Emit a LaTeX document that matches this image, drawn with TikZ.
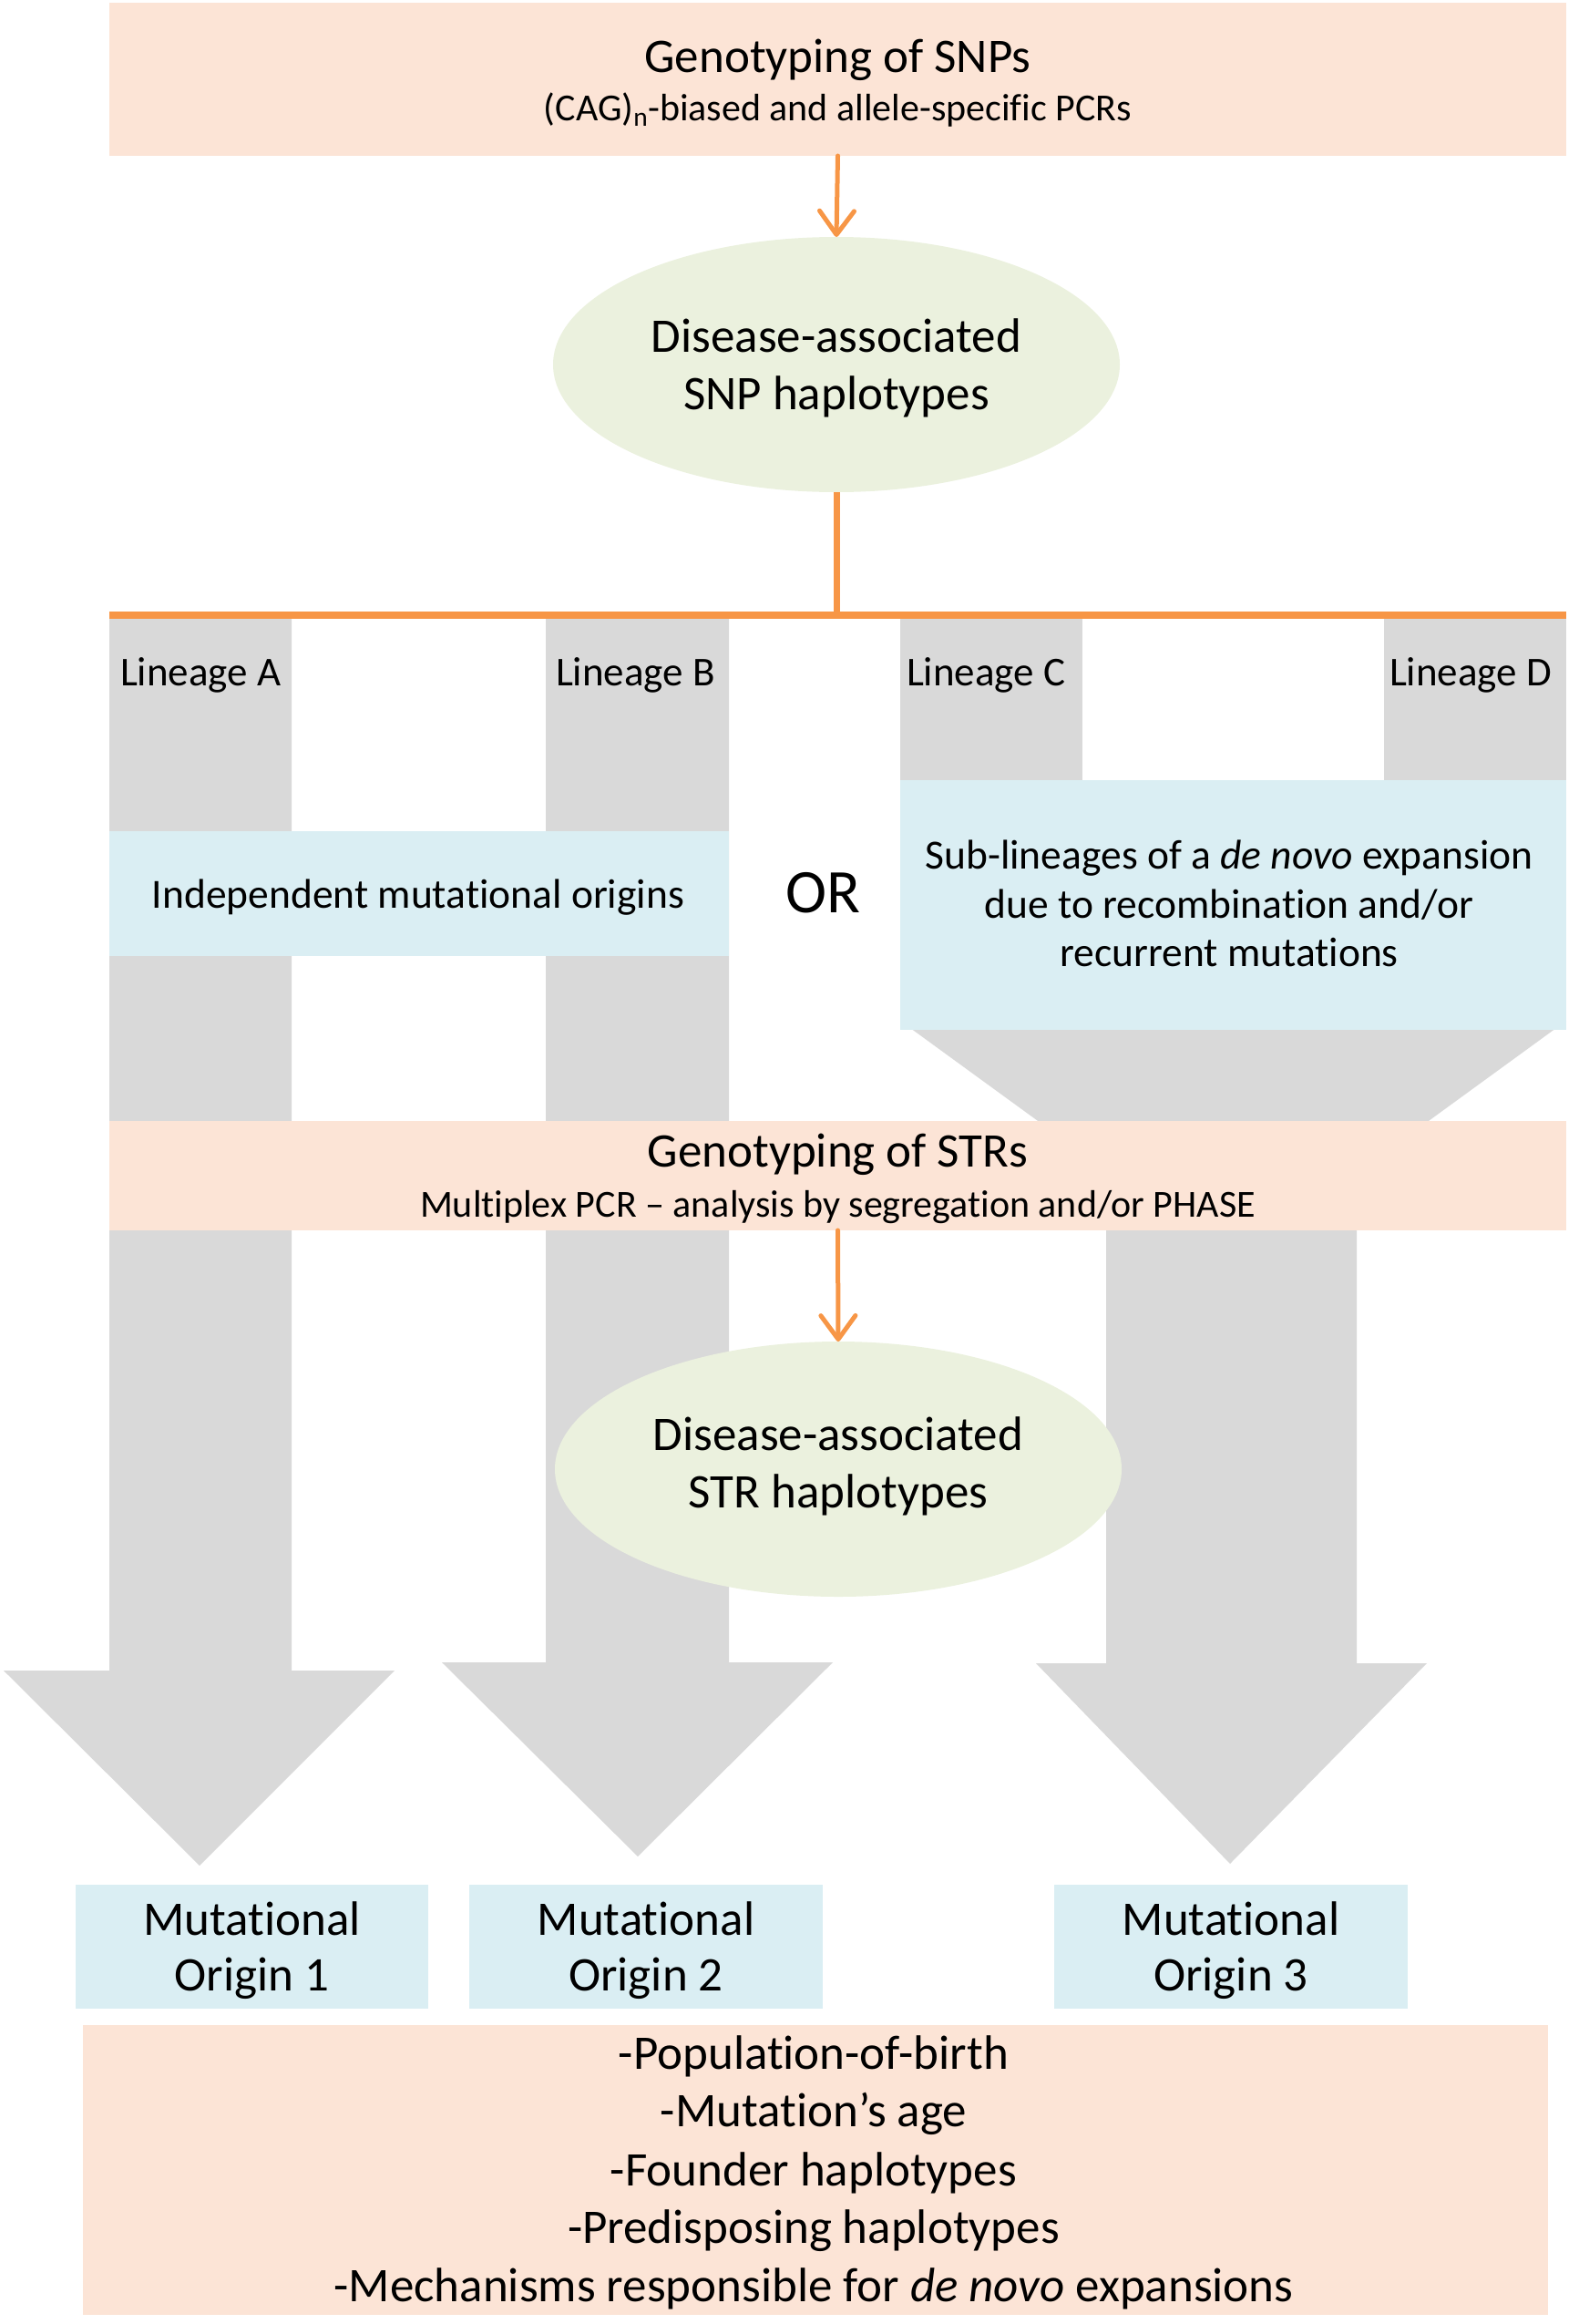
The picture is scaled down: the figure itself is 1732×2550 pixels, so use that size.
\documentclass[tikz,border=0pt]{standalone}
\usepackage{fontspec}
\setmainfont[Ligatures=NoCommon]{Carlito}
\usetikzlibrary{shapes.geometric,arrows.meta}
\definecolor{peach}{HTML}{FCE4D6}
\definecolor{lblue}{HTML}{DAEEF3}
\definecolor{lgreen}{HTML}{EBF1DE}
\definecolor{lgrey}{HTML}{D9D9D9}
\definecolor{orng}{HTML}{F79646}
\newcommand{\fsz}[1]{\fontsize{#1}{#1}\selectfont}
\begin{document}
\begin{tikzpicture}[x=1pt,y=-1pt,
  pbox/.style={rectangle,fill=peach,inner sep=0pt,outer sep=0pt},
  bbox/.style={rectangle,fill=lblue,inner sep=0pt,outer sep=0pt},
  ell/.style={ellipse,fill=lgreen,inner sep=0pt,outer sep=0pt,minimum width=622pt,minimum height=280pt},
  txt/.style={anchor=base,inner sep=0pt,outer sep=0pt},
  ltxt/.style={anchor=base west,inner sep=0pt,outer sep=0pt},
  oarrow/.style={draw=orng,line width=5pt,line cap=round,-{Straight Barb[length=26pt,width=38pt,line width=5pt,round]}},
  oline/.style={draw=orng,line width=7pt},
  greyshape/.style={fill=lgrey}
]
\useasboundingbox (0,0) rectangle (1732,2550);

% grey lineage arrows
\fill[greyshape] (120,675) -- (320,675) -- (320,1833) -- (433,1833) -- (219,2047) -- (4,1833) -- (120,1833) -- cycle;
\fill[greyshape] (599,675) -- (800,675) -- (800,1824) -- (914,1824) -- (700,2037) -- (485,1824) -- (599,1824) -- cycle;
\fill[greyshape] (988,675) rectangle (1188,870);
\fill[greyshape] (1519,675) rectangle (1719,870);
\fill[greyshape] (988,1120) -- (1719,1120) -- (1561,1235) -- (1146,1235) -- cycle;
\fill[greyshape] (1214,1340) -- (1489,1340) -- (1489,1825) -- (1566,1825) -- (1350,2045) -- (1137,1825) -- (1214,1825) -- cycle;

% boxes
\node[pbox,minimum width=1599pt,minimum height=168pt] (snpbox) at (919.5,87) {};
\node[ell] (snphap) at (918,400) {};
\coordinate (hmid) at (918,675);
\coordinate (hleft) at (120,675);
\coordinate (hright) at (1719,675);

\node[bbox,minimum width=680pt,minimum height=137pt] (indep) at (460,980.5) {};
\node[bbox,minimum width=731pt,minimum height=274pt] (sublin) at (1353.5,993) {};

\node[pbox,minimum width=1599pt,minimum height=120pt] (strbox) at (919.5,1290) {};
\node[ell] (strhap) at (920,1612) {};

\node[bbox,minimum width=387pt,minimum height=136pt] (mo1) at (276.5,2136) {};
\node[bbox,minimum width=388pt,minimum height=136pt] (mo2) at (709,2136) {};
\node[bbox,minimum width=388pt,minimum height=136pt] (mo3) at (1351,2136) {};

\node[pbox,minimum width=1608pt,minimum height=318pt] (bottom) at (895,2381) {};

% connectors
\draw[oarrow] (snpbox.south) -- (snphap.north);
\draw[oline] (snphap.south) -- (hmid);
\draw[orng,line width=8pt] (hleft) -- (hright);
\draw[oarrow] (strbox.south) -- (strhap.north);

% texts
\node[txt,font=\fsz{53}] (t1) at (919.5,80) {Genotyping of SNPs};
\node[txt,font=\fsz{42}] (t2) at (919.5,133) {(CAG)\textsubscript{n}-biased and allele-specific PCRs};
\node[txt,font=\fsz{53}] (e1a) at (918,386) {Disease-associated};
\node[txt,font=\fsz{53}] (e1b) at (918,449) {SNP haplotypes};

\node[ltxt,font=\fsz{45}] (la) at (132,752) {Lineage A};
\node[ltxt,font=\fsz{45}] (lb) at (610,752) {Lineage B};
\node[ltxt,font=\fsz{45}] (lc) at (995,752) {Lineage C};
\node[ltxt,font=\fsz{45}] (ld) at (1525,752) {Lineage D};

\node[txt,font=\fsz{45.5}] (ti) at (459,996) {Independent mutational origins};
\node[txt,font=\fsz{68}] (tor) at (903,1001) {OR};
\node[txt,font=\fsz{45.5}] (ts1) at (1349,953) {Sub-lineages of a \emph{de novo} expansion};
\node[txt,font=\fsz{45.5}] (ts2) at (1349,1007) {due to recombination and/or};
\node[txt,font=\fsz{45.5}] (ts3) at (1349,1060) {recurrent mutations};

\node[txt,font=\fsz{53}] (s1) at (919.5,1280) {Genotyping of STRs};
\node[txt,font=\fsz{42}] (s2) at (919.5,1335) {Multiplex PCR – analysis by segregation and/or PHASE};
\node[txt,font=\fsz{53}] (e2a) at (920,1591) {Disease-associated};
\node[txt,font=\fsz{53}] (e2b) at (920,1654) {STR haplotypes};

\node[txt,font=\fsz{53}] (m1a) at (276.5,2123) {Mutational};
\node[txt,font=\fsz{53}] (m1b) at (276.5,2184) {Origin 1};
\node[txt,font=\fsz{53}] (m2a) at (709,2123) {Mutational};
\node[txt,font=\fsz{53}] (m2b) at (709,2184) {Origin 2};
\node[txt,font=\fsz{53}] (m3a) at (1351,2123) {Mutational};
\node[txt,font=\fsz{53}] (m3b) at (1351,2184) {Origin 3};

\node[txt,font=\fsz{53}] (b1) at (893,2270) {-Population-of-birth};
\node[txt,font=\fsz{53}] (b2) at (893,2333) {-Mutation’s age};
\node[txt,font=\fsz{53}] (b3) at (893,2398) {-Founder haplotypes};
\node[txt,font=\fsz{53}] (b4) at (893,2461) {-Predisposing haplotypes};
\node[txt,font=\fsz{53}] (b5) at (893,2525) {-Mechanisms responsible for \emph{de novo} expansions};
\end{tikzpicture}
\end{document}
